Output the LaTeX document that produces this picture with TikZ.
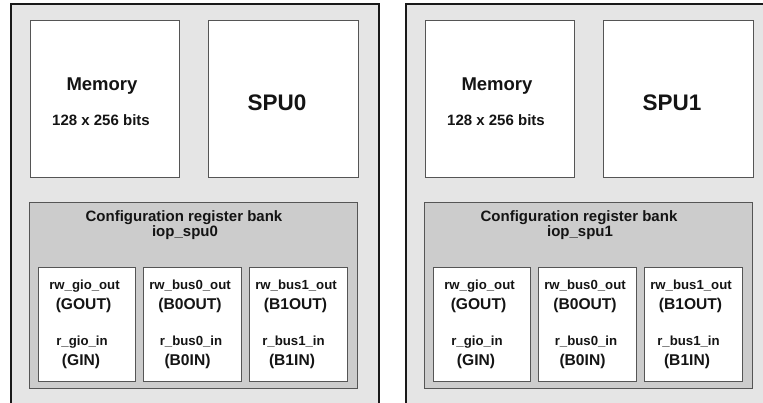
\documentclass[tikz,border=0pt]{standalone}
\usepackage{fontspec}
\setmainfont{Liberation Sans}
\definecolor{panelgray}{HTML}{E5E5E5}
\definecolor{bankgray}{HTML}{CCCCCC}
\definecolor{edgegray}{HTML}{555555}
\tikzset{
  panel/.style={fill=panelgray, draw=black!90, line width=2pt},
  unitbox/.style={draw=edgegray, line width=0.9pt, fill=white, inner sep=0pt, anchor=north west},
  bankbox/.style={draw=edgegray, line width=0.9pt, fill=bankgray, inner sep=0pt, anchor=north west},
  txt/.style={anchor=base, inner sep=0pt, text=black!92, font=\bfseries},
  fsA/.style={font=\bfseries\fontsize{18.5}{20}\selectfont},
  fsB/.style={font=\bfseries\fontsize{22.5}{24}\selectfont},
  fsC/.style={font=\bfseries\fontsize{15}{17}\selectfont},
  fsReg/.style={font=\bfseries\fontsize{13.2}{15}\selectfont},
  fsPar/.style={font=\bfseries\fontsize{15.6}{17}\selectfont},
}
% one SPU panel: #1 = index, #2 = horizontal offset
\newcommand\spupanel[2]{%
  \begin{scope}[xshift=#2pt]
    \path[panel] (11,430) -- (11,4) -- (378.5,4) -- (378.5,430) -- cycle;
    \node[unitbox, minimum width=149pt, minimum height=157pt] (mem#1) at (30,20) {};
    \node[unitbox, minimum width=150pt, minimum height=157pt] (spu#1) at (208,20) {};
    \node[txt, fsA] (memlbl#1) at (102,91) {Memory};
    \node[txt, fsC] (memsize#1) at (101,125.7) {128 x 256 bits};
    \node[txt, fsB] (spulbl#1) at (277,110.7) {SPU#1};
    \node[bankbox, minimum width=328pt, minimum height=186pt] (bank#1) at (29,202) {};
    \node[txt, fsC] (banklbl#1) at (184,222) {Configuration register bank};
    \node[txt, fsC] (bankname#1) at (185,237) {iop\_spu#1};
    \node[unitbox, minimum width=97pt, minimum height=114pt] (gio#1) at (38,267) {};
    \node[unitbox, minimum width=98pt, minimum height=114pt] (busA#1) at (143,267) {};
    \node[unitbox, minimum width=98pt, minimum height=114pt] (busB#1) at (249,267) {};
    % general I/O registers
    \node[txt, fsReg] (gout#1) at (84.5,289.3) {rw\_gio\_out};
    \node[txt, fsPar] (goutn#1) at (83.5,310) {(GOUT)};
    \node[txt, fsReg] (gin#1) at (82,345.3) {r\_gio\_in};
    \node[txt, fsPar] (ginn#1) at (81,365.7) {(GIN)};
    % bus 0 registers
    \node[txt, fsReg] (b0out#1) at (190,289.3) {rw\_bus0\_out};
    \node[txt, fsPar] (b0outn#1) at (190,310) {(B0OUT)};
    \node[txt, fsReg] (b0in#1) at (191,345.3) {r\_bus0\_in};
    \node[txt, fsPar] (b0inn#1) at (187.5,365.7) {(B0IN)};
    % bus 1 registers
    \node[txt, fsReg] (b1out#1) at (296,289.3) {rw\_bus1\_out};
    \node[txt, fsPar] (b1outn#1) at (295.5,310) {(B1OUT)};
    \node[txt, fsReg] (b1in#1) at (293.5,345.3) {r\_bus1\_in};
    \node[txt, fsPar] (b1inn#1) at (292,365.7) {(B1IN)};
  \end{scope}}
\begin{document}
\begin{tikzpicture}[x=1pt,y=-1pt]
  \useasboundingbox (0,0) rectangle (763,403);
  \clip (0,0) rectangle (763,403);
  \fill[white] (0,0) rectangle (763,403);
  \spupanel{0}{0}
  \spupanel{1}{395}
\end{tikzpicture}
\end{document}
